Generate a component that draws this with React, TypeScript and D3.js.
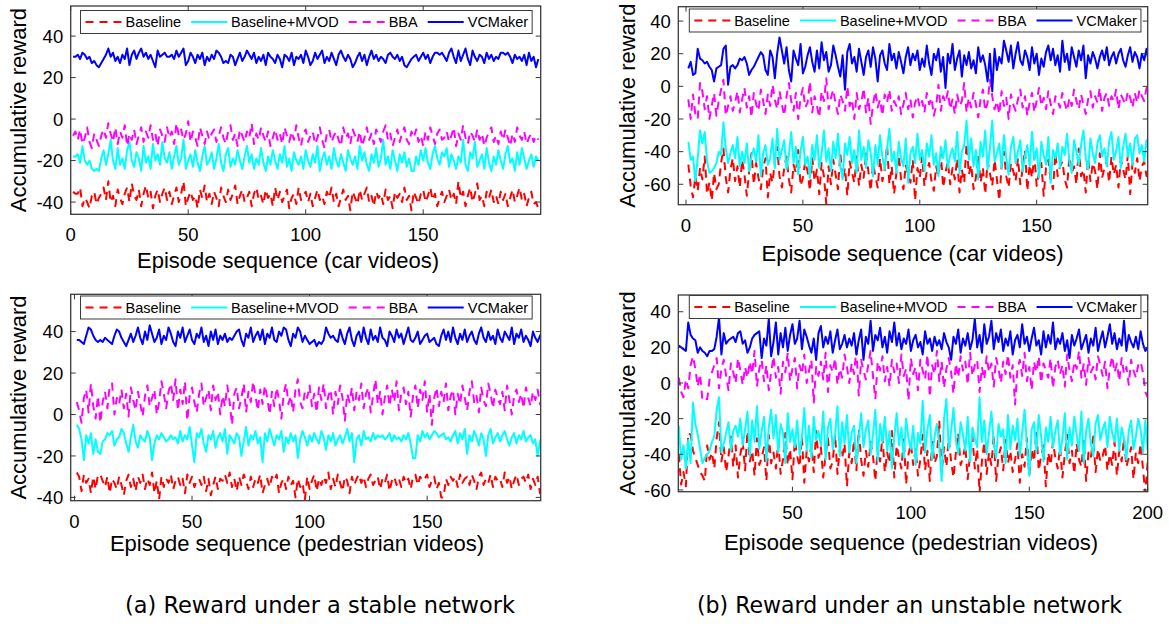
import React from 'react';
import * as d3 from 'd3';

// legend / series order as drawn in every panel
const seriesNames = ['Baseline', 'Baseline+MVOD', 'BBA', 'VCMaker'];
const seriesColors = ['#ff0000', '#00ffff', '#ff00ff', '#0000ff'];
const seriesDashed = [true, false, true, false];

const xTicksA = [0, 50, 100, 150];
const xTicksB = [50, 100, 150, 200];
const yTicksStable = [-40, -20, 0, 20, 40];
const yTicksUnstable = [-60, -40, -20, 0, 20, 40];

const yLabel = 'Accumulative reward';
const xLabelCar = 'Episode sequence (car videos)';
const xLabelPed = 'Episode sequence (pedestrian videos)';
const captionA = '(a) Reward under a stable network';
const captionB = '(b) Reward under an unstable network';

// (a) stable network, car videos
const tlBase = [-35,-36,-36,-33,-42,-38,-40,-43,-37,-35,-41,-38,-36,-33,-39,-30,-40,-37,-42,-34,
  -38,-41,-36,-33,-40,-31,-37,-39,-34,-42,-36,-32,-38,-35,-43,-37,-34,-40,-36,-33,
  -39,-35,-41,-37,-33,-40,-36,-30,-42,-38,-35,-39,-37,-43,-34,-38,-32,-40,-36,-41,
  -35,-38,-42,-33,-37,-40,-34,-39,-36,-32,-41,-37,-34,-40,-38,-35,-42,-36,-33,-39,
  -37,-41,-34,-38,-36,-42,-33,-39,-35,-40,-37,-34,-43,-38,-36,-41,-33,-39,-37,-35,
  -40,-36,-42,-38,-34,-39,-37,-41,-35,-38,-33,-40,-36,-42,-38,-34,-39,-37,-44,-35,
  -38,-41,-34,-39,-36,-33,-40,-37,-42,-35,-38,-36,-41,-34,-39,-37,-43,-35,-38,-36,
  -40,-33,-39,-37,-44,-35,-38,-41,-36,-34,-40,-37,-33,-39,-36,-42,-38,-35,-40,-37,
  -34,-39,-36,-41,-30,-38,-35,-42,-37,-33,-40,-36,-31,-39,-37,-42,-35,-38,-34,-40,
  -37,-41,-35,-39,-36,-42,-38,-34,-40,-37,-33,-39,-36,-42,-38,-35,-41,-40,-43];
const tlMvod = [-18,-18,-17,-21,-13,-20,-22,-20,-24,-25,-24,-25,-19,-15,-22,-17,-10,-20,-24,-14,
  -22,-19,-24,-15,-11,-20,-23,-16,-19,-25,-13,-21,-18,-24,-12,-20,-17,-22,-11,-19,
  -21,-16,-24,-18,-13,-22,-19,-10,-24,-20,-17,-23,-15,-21,-25,-18,-13,-22,-20,-16,
  -24,-19,-12,-21,-25,-17,-14,-23,-19,-22,-15,-20,-24,-18,-13,-21,-17,-24,-19,-22,
  -14,-21,-25,-18,-22,-15,-20,-24,-17,-21,-13,-23,-19,-25,-16,-20,-22,-18,-24,-15,
  -20,-23,-17,-21,-13,-25,-19,-16,-22,-18,-24,-14,-20,-23,-17,-21,-25,-15,-19,-22,
  -18,-24,-13,-20,-16,-22,-25,-17,-21,-14,-23,-19,-10,-22,-18,-24,-15,-20,-25,-17,
  -21,-16,-23,-19,-25,-25,-18,-22,-15,-20,-14,-21,-24,-17,-13,-19,-22,-16,-18,-14,
  -23,-17,-20,-24,-18,-21,-10,-22,-25,-16,-19,-11,-23,-20,-17,-24,-14,-21,-25,-18,
  -22,-15,-20,-24,-17,-13,-21,-19,-25,-16,-22,-14,-19,-24,-20,-17,-23,-18,-20];
const tlBba = [-8,-6,-10,-5,-12,-9,-4,-11,-14,-7,-10,-13,-8,-5,-9,-2,-7,-11,-4,-12,
  -6,-9,-3,-13,-7,-10,-5,-12,-8,-4,-11,-6,-9,-3,-10,-7,-13,-5,-8,-11,
  -4,-9,-6,-12,-2,-8,-5,-10,-7,-1,-11,-6,-9,-13,-4,-8,-12,-6,-10,-7,
  -5,-11,-8,-4,-9,-12,-6,-3,-10,-7,-13,-5,-8,-11,-6,-9,-2,-12,-7,-10,
  -4,-8,-11,-6,-13,-9,-5,-10,-7,-12,-4,-8,-11,-6,-10,-3,-9,-13,-7,-5,
  -11,-8,-6,-12,-9,-4,-10,-14,-7,-5,-11,-8,-6,-10,-13,-4,-9,-7,-12,-5,
  -8,-11,-6,-13,-9,-4,-10,-7,-12,-5,-8,-11,-6,-3,-10,-7,-13,-9,-5,-11,
  -7,-4,-10,-12,-6,-9,-5,-11,-8,-13,-6,-10,-4,-8,-12,-7,-5,-10,-9,-6,
  -11,-8,-4,-13,-7,-10,-3,-9,-12,-6,-8,-11,-5,-10,-7,-13,-9,-6,-4,-11,
  -8,-12,-6,-10,-5,-9,-13,-7,-11,-4,-8,-10,-6,-12,-9,-7,-11,-8,-10];
const tlVc = [30,30,31,29,32,31,29,30,27,28,26,25,27,29,31,34,30,32,28,30,
  27,31,29,34,26,31,33,29,32,34,30,32,29,31,28,25,33,30,31,32,
  30,30,31,29,33,30,32,34,26,28,32,30,27,31,29,32,26,30,28,31,
  29,33,32,30,27,28,27,31,30,26,29,32,28,30,33,31,29,32,27,30,
  28,31,26,32,30,29,27,31,29,25,31,30,28,32,26,30,29,31,27,33,
  30,26,28,32,29,31,33,27,30,28,32,29,26,31,33,30,28,31,29,25,
  27,30,32,28,31,26,30,33,29,31,28,30,29,27,31,32,30,29,31,28,
  30,26,25,27,29,30,31,28,30,32,29,31,27,30,32,32,31,32,30,28,
  32,34,30,27,33,28,31,34,29,26,33,30,28,31,30,27,32,29,31,28,
  30,29,32,32,31,32,30,27,31,29,30,28,31,26,32,28,30,25,29];

// (b) unstable network, car videos
const trBase = [-48,-61,-68,-55,-64,-50,-57,-43,-66,-59,-70,-53,-63,-60,-47,-38,-56,-65,-51,-44,
  -58,-49,-62,-45,-54,-67,-52,-41,-60,-47,-56,-63,-50,-44,-68,-53,-59,-46,-37,-55,
  -62,-50,-43,-57,-65,-48,-53,-39,-61,-56,-46,-52,-64,-44,-58,-51,-66,-47,-55,-72,
  -49,-60,-45,-54,-63,-41,-57,-50,-67,-46,-53,-59,-43,-61,-48,-56,-40,-52,-64,-47,
  -55,-62,-44,-58,-51,-36,-60,-49,-66,-53,-42,-57,-63,-48,-54,-59,-45,-70,-50,-56,
  -43,-61,-52,-47,-58,-64,-49,-55,-41,-62,-53,-46,-60,-50,-57,-44,-65,-51,-59,-35,
  -54,-48,-63,-56,-42,-59,-50,-66,-46,-53,-61,-45,-57,-70,-49,-40,-55,-62,-47,-52,
  -58,-44,-60,-51,-39,-64,-48,-56,-42,-61,-53,-47,-67,-50,-45,-58,-63,-41,-55,-49,
  -46,-57,-62,-43,-53,-49,-60,-38,-55,-51,-65,-44,-58,-47,-52,-63,-41,-56,-50,-46,
  -59,-43,-54,-48,-62,-45,-51,-57,-42,-66,-47,-53,-44,-58,-49,-46,-55,-50,-60];
const trMvod = [-34,-45,-43,-58,-44,-27,-35,-28,-46,-53,-52,-50,-47,-40,-42,-22,-38,-47,-41,-36,
  -44,-31,-49,-40,-47,-35,-52,-43,-38,-46,-30,-55,-41,-36,-48,-44,-32,-50,-26,-45,
  -39,-33,-51,-42,-28,-47,-37,-54,-40,-31,-48,-43,-56,-36,-45,-30,-50,-41,-27,-46,
  -38,-52,-34,-44,-29,-49,-57,-35,-42,-31,-47,-39,-53,-27,-45,-37,-50,-33,-41,-55,
  -36,-48,-30,-43,-51,-38,-26,-46,-40,-53,-34,-44,-49,-32,-59,-41,-37,-47,-29,-45,
  -39,-52,-35,-43,-30,-48,-41,-55,-37,-44,-33,-50,-42,-38,-46,-28,-53,-40,-36,-21,
  -45,-32,-49,-39,-57,-34,-43,-27,-51,-38,-21,-46,-41,-35,-50,-30,-44,-54,-37,-31,
  -47,-40,-33,-52,-43,-36,-49,-28,-45,-38,-56,-34,-42,-48,-31,-59,-39,-44,-35,-50,
  -37,-42,-29,-46,-53,-33,-40,-48,-36,-27,-44,-51,-32,-41,-47,-35,-30,-43,-38,-49,
  -34,-28,-45,-40,-31,-50,-37,-29,-43,-35,-48,-32,-30,-41,-36,-46,-33,-39,-42];
const trBba = [-8,-20,-5,-17,-20,2,-3,-14,-6,-20,-12,-4,-18,-9,-2,4,-18,-12,-6,-15,
  -10,-3,-16,-8,-1,-13,-6,-19,-4,-11,-15,-2,-9,-17,-5,-12,1,-8,-14,-3,
  -11,-18,-6,2,-9,-15,-4,-20,-7,-1,-13,-10,3,-16,-6,-12,-19,-3,-9,5,
  -14,-7,-2,-11,-17,-5,-9,-15,0,-12,-8,-20,-4,-14,-10,-1,-16,-7,-23,-11,
  -3,-13,-8,-18,-5,-10,-2,-15,-9,-12,-6,-17,-11,-4,-14,-8,-19,-10,-6,-13,
  -9,-16,-4,-11,-7,-18,-12,1,-15,-6,-10,-3,-14,-8,-17,-5,-12,-9,2,-16,
  -7,-13,-4,-11,-19,-8,-2,-15,-10,4,-6,-14,-9,-17,-3,-12,-7,-20,-5,-11,
  -15,-8,-2,-13,-6,-18,-10,-4,-16,-9,-1,-12,-7,-14,-3,-11,-17,-6,-9,-13,
  -4,-10,-15,-7,-12,-2,-9,-14,-5,-11,-17,-8,-3,-13,-6,-10,-1,-15,-7,-4,
  -12,-6,-9,-2,-14,-5,-8,-11,-3,-7,-13,-4,-10,-2,-6,-9,-1,-5,-11];
const trVc = [11,15,7,8,23,17,16,14,15,12,10,3,11,12,13,23,25,1,12,13,
  11,13,17,16,18,14,7,10,12,15,18,21,19,10,7,22,18,5,20,30,
  22,14,24,10,3,22,17,13,26,8,12,19,24,15,9,22,11,27,16,21,
  9,13,25,19,12,6,19,-2,21,26,14,18,9,23,15,7,18,22,12,24,
  17,3,19,22,14,10,26,16,20,11,21,15,8,18,24,13,20,16,22,10,
  17,12,25,14,7,20,16,23,9,18,-1,20,14,26,10,17,22,6,19,13,
  21,11,16,8,24,15,19,13,3,20,-3,23,10,18,14,28,22,15,25,11,
  20,27,16,13,22,18,10,24,14,20,7,17,12,21,25,16,23,13,19,9,
  28,15,20,10,24,18,12,22,16,25,5,19,14,21,17,11,18,22,16,24,
  13,18,21,14,20,23,16,12,19,24,15,21,18,11,20,16,23,14,26];

// (a) stable network, pedestrian videos
const blBase = [-28,-30,-37,-29,-33,-31,-38,-30,-36,-29,-29,-32,-35,-30,-38,-31,-33,-36,-30,-34,
  -39,-32,-29,-35,-31,-37,-30,-33,-29,-36,-31,-34,-28,-38,-32,-41,-30,-35,-31,-33,
  -29,-36,-32,-30,-34,-31,-38,-29,-33,-30,-35,-32,-31,-34,-30,-37,-31,-39,-34,-30,
  -36,-31,-32,-29,-33,-28,-35,-31,-37,-30,-34,-29,-32,-36,-30,-35,-31,-33,-29,-38,
  -34,-31,-35,-30,-32,-29,-38,-33,-31,-36,-30,-34,-32,-40,-31,-35,-33,-41,-30,-36,
  -32,-29,-37,-31,-34,-30,-33,-28,-36,-31,-35,-29,-33,-37,-30,-32,-38,-30,-34,-31,
  -29,-33,-30,-35,-31,-29,-34,-32,-30,-36,-31,-33,-29,-37,-32,-30,-34,-31,-35,-30,
  -33,-31,-36,-30,-29,-34,-30,-32,-31,-29,-35,-32,-30,-36,-33,-40,-40,-31,-34,-30,
  -32,-30,-35,-29,-33,-31,-30,-34,-29,-32,-36,-30,-28,-34,-31,-33,-29,-35,-30,-32,
  -31,-35,-28,-33,-30,-36,-32,-29,-34,-31,-30,-33,-29,-36,-31,-34,-30,-38,-32];
const blMvod = [-5,-7,-12,-22,-10,-14,-9,-19,-12,-18,-19,-13,-12,-9,-10,-8,-15,-12,-11,-7,
  -9,-14,-18,-11,-5,-13,-16,-10,-12,-13,-8,-11,-22,-14,-10,-12,-9,-11,-13,-12,
  -10,-12,-11,-14,-8,-13,-10,-12,-6,-15,-23,-9,-11,-7,-14,-18,-10,-12,-8,-16,
  -11,-9,-13,-7,-19,-10,-12,-14,-9,-11,-20,-13,-6,-15,-10,-12,-8,-14,-11,-23,
  -9,-13,-7,-11,-15,-10,-12,-8,-18,-11,-14,-9,-13,-10,-21,-12,-8,-11,-15,-10,
  -13,-9,-12,-14,-8,-11,-17,-10,-13,-9,-15,-12,-10,-14,-11,-7,-13,-9,-23,-12,
  -10,-15,-8,-12,-11,-13,-9,-12,-10,-11,-10,-12,-11,-9,-13,-10,-12,-11,-13,-10,
  -12,-9,-14,-21,-21,-10,-13,-8,-11,-9,-12,-10,-8,-9,-11,-10,-9,-12,-11,-13,
  -10,-8,-14,-9,-12,-7,-19,-10,-13,-8,-11,-15,-9,-12,-20,-10,-7,-14,-11,-9,
  -13,-10,-8,-12,-15,-11,-9,-14,-10,-12,-8,-13,-11,-10,-14,-12,-20,-13,-10];
const blBba = [6,2,-4,8,12,1,15,4,-2,9,-4,6,11,3,14,15,0,8,5,12,
  3,10,-1,13,7,2,11,5,-1,9,14,4,8,12,0,6,16,10,3,11,
  15,7,17,2,12,5,16,-3,9,13,6,1,10,15,4,8,12,2,14,7,
  11,0,9,4,14,6,-5,10,13,3,8,15,1,11,6,16,9,2,12,5,
  14,8,0,11,4,13,7,-2,10,15,5,9,1,12,17,6,3,11,8,14,
  4,10,1,13,7,15,3,9,12,0,11,5,14,8,-3,10,6,13,2,11,
  7,15,3,10,13,1,9,17,5,11,0,8,14,4,12,6,16,2,10,13,
  5,11,-1,9,14,3,12,7,16,1,10,-5,8,13,4,11,6,15,2,9,
  12,0,10,5,14,8,2,11,16,6,9,1,13,7,4,15,10,3,12,8,
  5,11,2,14,7,0,9,12,6,10,3,13,8,4,11,7,12,5,8];
const blVc = [36,36,35,34,38,42,41,38,36,35,36,35,37,36,35,34,38,41,40,37,
  35,33,36,39,35,38,42,37,34,40,36,43,39,35,37,41,34,38,36,42,
  39,35,33,40,37,42,35,38,41,36,34,39,37,42,35,38,33,40,36,41,
  34,38,36,39,35,37,36,38,40,41,36,33,39,37,42,35,38,40,36,41,
  34,39,37,42,36,35,40,38,42,41,36,33,39,37,42,40,35,38,36,34,
  35,36,33,35,34,36,42,39,37,38,36,35,41,37,34,39,42,36,33,38,
  40,35,42,37,34,41,36,38,35,42,37,36,33,40,38,35,41,37,39,34,
  38,42,36,35,37,40,34,36,38,39,35,36,37,34,33,38,41,36,40,35,
  42,37,34,39,36,41,35,38,40,36,34,39,42,37,35,40,36,38,34,41,
  37,35,40,38,36,42,34,39,37,41,35,38,36,33,40,37,35,38,40];

// (b) unstable network, pedestrian videos
const brBase = [-40,-57,-50,-58,-28,-29,-38,-42,-46,-50,-52,-55,-35,-43,-39,-48,-31,-22,-44,-36,
  -50,-41,-30,-47,-35,-53,-40,-33,-49,-27,-44,-38,-52,-31,-46,-42,-36,-55,-29,-45,
  -39,-48,-33,-51,-43,-28,-46,-37,-54,-32,-41,-47,-30,-56,-38,-44,-35,-50,-27,-42,
  -36,-53,-40,-31,-48,-44,-29,-51,-37,-42,-34,-58,-39,-45,-32,-49,-26,-43,-52,-38,
  -47,-33,-41,-55,-36,-44,-30,-50,-39,-45,-27,-53,-35,-42,-48,-31,-57,-40,-34,-46,
  -37,-52,-43,-29,-49,-38,-55,-33,-45,-41,-21,-50,-36,-47,-31,-44,-53,-39,-28,-46,
  -42,-35,-54,-40,-30,-48,-37,-62,-44,-33,-51,-39,-46,-29,-55,-41,-36,-49,-32,-45,
  -38,-50,-43,-34,-56,-40,-47,-31,-52,-37,-44,-27,-49,-41,-35,-58,-39,-46,-33,-42,
  -48,-36,-53,-40,-29,-45,-38,-51,-34,-43,-47,-32,-55,-39,-42,-30,-50,-37,-44,-41,
  -35,-49,-40,-46,-33,-52,-38,-44,-31,-47,-42,-36,-54,-39,-45,-34,-48,-62,-44];
const brMvod = [-24,-43,-35,-48,-32,-45,-11,-23,-29,-37,-45,-42,-40,-38,-33,-30,-15,-8,-39,-34,
  -28,-22,-38,-27,-24,-30,-20,-35,-26,-16,-41,-21,-33,-13,-37,-27,-19,-44,-25,-15,
  -31,-18,-39,-23,-28,-45,-17,-33,-26,-36,-21,-40,-30,-14,-38,-24,-42,-19,-32,-27,
  -35,-16,-43,-25,-20,-37,-29,-13,-41,-22,-34,-18,-39,-28,-24,-45,-31,-17,-36,-26,
  -21,-40,-29,-15,-44,-23,-33,-19,-38,-27,-48,-30,-17,-35,-25,-42,-20,-31,-37,-24,
  -46,-28,-34,-10,-39,-26,-18,-43,-30,-23,-35,-55,-20,-9,-37,-27,-14,-32,-40,-22,
  -29,-38,-19,-44,-25,-31,-36,-8,-33,-21,-40,-28,-16,-34,-42,-23,-30,-26,-45,-18,
  -37,-24,-32,-20,-41,-28,-15,-35,-52,-26,-22,-39,-18,-30,-44,-25,-33,-19,-36,-27,
  -21,-40,-31,-17,-43,-25,-35,-19,-29,-38,-16,-45,-27,-20,-34,-41,-23,-18,-32,-26,
  -22,-36,-19,-28,-33,-20,-38,-25,-31,-43,-27,-21,-37,-30,-20,-26,-39,-21,-38];
const brBba = [3,-5,-8,2,-3,10,15,8,-2,5,-10,-9,-9,2,6,10,14,-3,8,13,
  4,-4,11,6,0,14,7,-1,9,3,12,5,18,-2,8,13,1,10,-4,6,
  15,3,9,-6,12,6,17,1,8,14,-3,10,5,16,0,7,13,-11,9,4,
  12,2,17,-5,10,6,14,-1,8,3,16,9,0,11,5,19,-7,13,7,2,
  10,18,4,-9,12,7,15,1,9,-2,13,6,11,0,16,4,8,-10,14,5,
  9,-4,13,7,2,16,-8,10,5,18,1,12,-3,8,14,6,-6,11,3,15,
  7,12,-1,17,4,10,13,-5,9,2,15,6,11,-2,14,8,0,12,5,16,
  3,10,-12,8,13,4,17,1,9,-4,12,6,15,0,11,7,3,14,-3,9,
  13,5,10,-2,16,7,1,12,8,18,3,11,-1,14,6,9,2,15,10,4,
  12,-3,8,15,6,11,1,14,5,9,-1,13,7,3,10,12,6,-5,-8];
const brVc = [21,20,19,18,34,27,25,24,17,20,18,17,15,18,18,19,26,37,16,28,
  22,24,25,26,23,28,29,22,24,17,20,25,27,28,29,14,25,21,36,15,
  23,34,16,28,20,31,18,27,33,22,25,35,19,30,26,21,17,25,13,28,
  32,20,26,22,29,17,24,30,19,22,27,20,25,21,28,16,24,30,13,26,
  22,35,18,27,24,31,20,26,17,29,23,34,21,28,19,25,22,30,18,24,
  27,20,23,16,29,22,25,18,26,21,24,19,28,23,20,13,26,22,30,17,
  25,21,28,19,24,36,20,27,17,33,22,26,35,19,28,23,30,18,25,21,
  29,16,24,27,20,33,22,26,18,25,31,21,24,16,29,20,27,22,34,19,
  25,22,28,18,24,14,27,21,25,30,19,23,27,17,25,21,31,18,24,29,
  20,26,33,22,28,19,25,21,35,18,27,23,20,26,19,29,22,18,20];

const FONT = "'Liberation Sans', Arial, Helvetica, sans-serif";
const CAPTION_FONT = "'DejaVu Sans Condensed', 'Liberation Sans Narrow', sans-serif";
const AXIS = '#3a3a3a';
const TICK_FS = 18.5;
const LABEL_FS = 22;

const panels = [
  { id: 'tl', l: 70.7, t: 6, r: 540.7, b: 214.3, xDom: [0, 200], yDom: [-45.9, 54.5], x0: 1,
    xTicks: xTicksA, yTicks: yTicksStable, series: [tlBase, tlMvod, tlBba, tlVc],
    xLabel: xLabelCar, xLabelX: 288, xLabelY: 260, yLabelX: 18, legX: 80.5, legY: 10.5 },
  { id: 'tr', l: 678.3, t: 6.7, r: 1147.7, b: 204.7, xDom: [-3.3, 197.5], yDom: [-72.5, 48.8], x0: 1,
    xTicks: xTicksA, yTicks: yTicksUnstable, series: [trBase, trMvod, trBba, trVc],
    xLabel: xLabelCar, xLabelX: 912.5, xLabelY: 253, yLabelX: 626.7, legX: 689.3, legY: 9 },
  { id: 'bl', l: 70.7, t: 294.3, r: 540.7, b: 500.7, xDom: [-1.6, 198.3], yDom: [-41.6, 58], x0: 1,
    xTicks: xTicksA, yTicks: yTicksStable, series: [blBase, blMvod, blBba, blVc],
    xLabel: xLabelPed, xLabelX: 297, xLabelY: 543, yLabelX: 18, legX: 80.5, legY: 296 },
  { id: 'br', l: 678.3, t: 295, r: 1147.7, b: 491.7, xDom: [1.8, 200], yDom: [-61, 49.4], x0: 2,
    xTicks: xTicksB, yTicks: yTicksUnstable, series: [brBase, brMvod, brBba, brVc],
    xLabel: xLabelPed, xLabelX: 911, xLabelY: 542, yLabelX: 626.7, legX: 689.3, legY: 295.5 },
];

let measureCtx: CanvasRenderingContext2D | null = null;
function textWidth(s: string, font: string) {
  if (!measureCtx) measureCtx = document.createElement('canvas').getContext('2d');
  if (!measureCtx) return s.length * 7;
  measureCtx.font = font;
  return measureCtx.measureText(s).width;
}

const Legend = ({ x, y }: { x: number; y: number }) => {
  const fs = 14.5;
  const h = 23;
  let cx = x + 5;
  const items = seriesNames.map((name, i) => {
    const lx = cx;
    const tw = textWidth(name, `${fs}px 'Liberation Sans'`);
    cx += 36 + 4 + tw + 10;
    return { name, i, lx, tw };
  });
  const w = cx - 10 + 4 - x;
  const cy = y + h / 2;
  return (
    <g>
      <rect x={x} y={y} width={w} height={h} fill="#fff" stroke={AXIS} strokeWidth={1} />
      {items.map(d => (
        <g key={d.name}>
          <line x1={d.lx} x2={d.lx + 36} y1={cy} y2={cy} stroke={seriesColors[d.i]} strokeWidth={2}
            strokeDasharray={seriesDashed[d.i] ? '8,6' : undefined} />
          <text x={d.lx + 40} y={cy + fs * 0.36} fontSize={fs} fontFamily={FONT} fill="#000">{d.name}</text>
        </g>
      ))}
    </g>
  );
};

const Panel = ({ p }: { p: typeof panels[number] }) => {
  const x = d3.scaleLinear().domain(p.xDom).range([p.l, p.r]);
  const y = d3.scaleLinear().domain(p.yDom).range([p.b, p.t]);
  const tick = 5;
  return (
    <g>
      <defs>
        <clipPath id={`clip-${p.id}`}>
          <rect x={p.l} y={p.t} width={p.r - p.l} height={p.b - p.t} />
        </clipPath>
      </defs>
      <g clipPath={`url(#clip-${p.id})`}>
        {p.series.map((vals, si) => {
          const line = d3.line<number>().x((_, i) => x(p.x0 + i)).y(v => y(v));
          return (
            <path key={si} d={line(vals) || ''} fill="none" stroke={seriesColors[si]} strokeWidth={2}
              strokeDasharray={seriesDashed[si] ? '8,6' : undefined} strokeLinejoin="round" />
          );
        })}
      </g>
      <rect x={p.l} y={p.t} width={p.r - p.l} height={p.b - p.t} fill="none" stroke={AXIS} strokeWidth={1.3} />
      {p.xTicks.map(t => (
        <g key={`x${t}`}>
          <line x1={x(t)} x2={x(t)} y1={p.b} y2={p.b - tick} stroke={AXIS} />
          <line x1={x(t)} x2={x(t)} y1={p.t} y2={p.t + tick} stroke={AXIS} />
          <text x={x(t)} y={p.b + 20.5 + TICK_FS * 0.36} textAnchor="middle" fontSize={TICK_FS} fontFamily={FONT}>{t}</text>
        </g>
      ))}
      {p.yTicks.map(t => (
        <g key={`y${t}`}>
          <line x1={p.l} x2={p.l + tick} y1={y(t)} y2={y(t)} stroke={AXIS} />
          <line x1={p.r} x2={p.r - tick} y1={y(t)} y2={y(t)} stroke={AXIS} />
          <text x={p.l - 7.5} y={y(t) + TICK_FS * 0.36} textAnchor="end" fontSize={TICK_FS} fontFamily={FONT}>{t}</text>
        </g>
      ))}
      <text x={p.xLabelX} y={p.xLabelY + LABEL_FS * 0.36} textAnchor="middle" fontSize={LABEL_FS} fontFamily={FONT}>{p.xLabel}</text>
      <text transform={`translate(${p.yLabelX},${(p.t + p.b) / 2}) rotate(-90)`} y={LABEL_FS * 0.36}
        textAnchor="middle" fontSize={LABEL_FS} fontFamily={FONT}>{yLabel}</text>
      <Legend x={p.legX} y={p.legY} />
    </g>
  );
};

export default function App() {
  return (
    <svg width={1169} height={624} style={{ position: 'absolute', left: 0, top: 0, background: '#fff' }}>
      <rect width={1169} height={624} fill="#fff" />
      {panels.map(p => <Panel key={p.id} p={p} />)}
      <text x={125} y={613} fontSize={23} fontFamily={CAPTION_FONT}
        textLength={390} lengthAdjust="spacingAndGlyphs">{captionA}</text>
      <text x={697} y={613} fontSize={23} fontFamily={CAPTION_FONT}
        textLength={425} lengthAdjust="spacingAndGlyphs">{captionB}</text>
    </svg>
  );
}
